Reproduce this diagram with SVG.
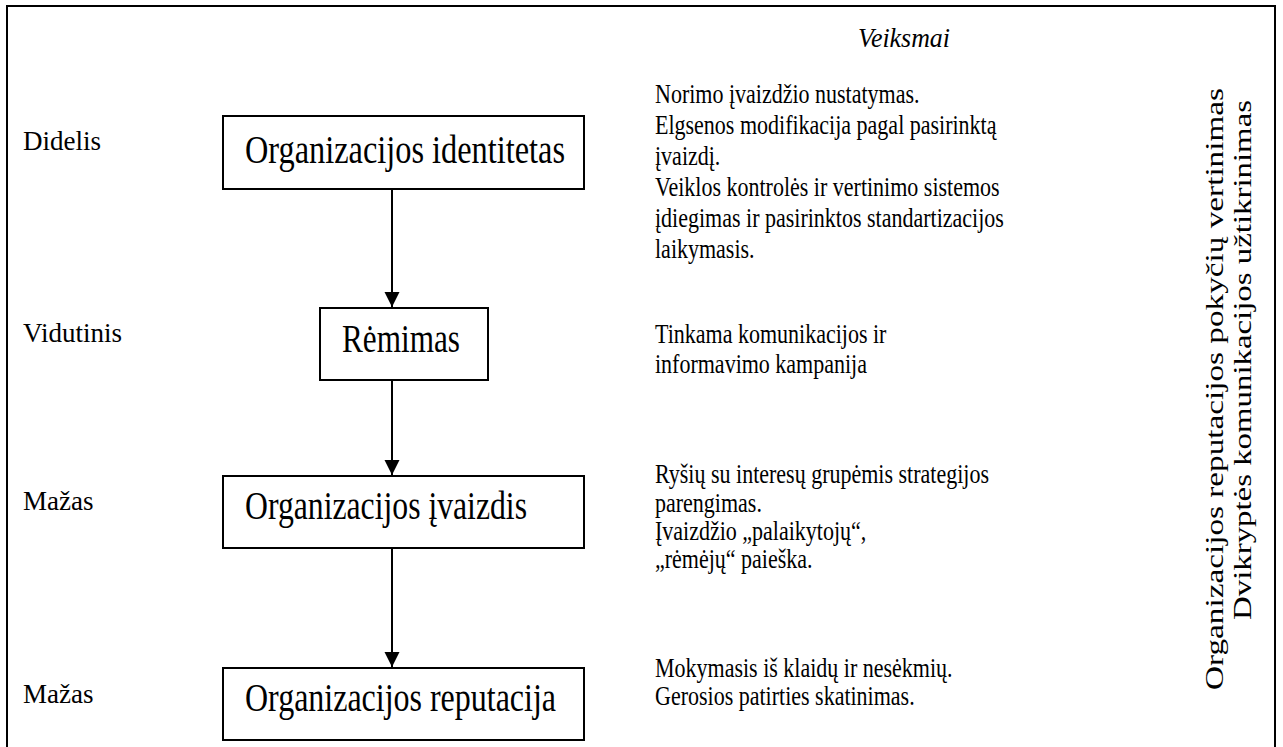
<svg xmlns="http://www.w3.org/2000/svg" width="1283" height="747" viewBox="0 0 1283 747">
<defs>
<marker id="arr" markerWidth="16" markerHeight="16" refX="15" refY="7.5" orient="auto" markerUnits="userSpaceOnUse">
<path d="M0,0 L15,7.5 L0,15 Z" fill="#000"/>
</marker>
<style>
.t{font-family:"Liberation Serif","Times New Roman","DejaVu Serif",serif;fill:#000}
.lbl{font-size:27px}
.box{fill:#fff;stroke:#000;stroke-width:2}
.nt{font-size:41px}
.rt{font-size:28px}
.vt{font-size:33px}
.c{fill:none;stroke:#000;stroke-width:2}
</style>
</defs>
<rect x="0" y="0" width="1283" height="747" fill="#fff"/>
<rect x="7" y="6" width="1268" height="760" fill="none" stroke="#000" stroke-width="2"/>

<text class="t rt" x="858" y="47" font-style="italic" textLength="92" lengthAdjust="spacingAndGlyphs">Veiksmai</text>

<g id="levels" class="t lbl">
<text x="23" y="150">Didelis</text>
<text x="23" y="342">Vidutinis</text>
<text x="23" y="510">Mažas</text>
<text x="23" y="703">Mažas</text>
</g>

<g id="connectors">
<line class="c" x1="392" y1="189" x2="392" y2="307" marker-end="url(#arr)"/>
<line class="c" x1="392" y1="380" x2="392" y2="475" marker-end="url(#arr)"/>
<line class="c" x1="392" y1="548" x2="392" y2="667" marker-end="url(#arr)"/>
</g>

<g id="n1"><rect class="box" x="223" y="116" width="361" height="73"/>
<text class="t nt" x="245" y="163" textLength="320" lengthAdjust="spacingAndGlyphs">Organizacijos identitetas</text></g>
<g id="n2"><rect class="box" x="320" y="308" width="168" height="72"/>
<text class="t nt" x="342" y="352" textLength="118" lengthAdjust="spacingAndGlyphs">Rėmimas</text></g>
<g id="n3"><rect class="box" x="223" y="476" width="361" height="72"/>
<text class="t nt" x="245" y="519" textLength="282" lengthAdjust="spacingAndGlyphs">Organizacijos įvaizdis</text></g>
<g id="n4"><rect class="box" x="223" y="668" width="361" height="72"/>
<text class="t nt" x="245" y="711" textLength="311" lengthAdjust="spacingAndGlyphs">Organizacijos reputacija</text></g>

<g id="actions" class="t rt" transform="translate(655,0) scale(0.786,1)">
<text x="0" y="103">Norimo įvaizdžio nustatymas.</text>
<text x="0" y="134">Elgsenos modifikacija pagal pasirinktą</text>
<text x="0" y="165">įvaizdį.</text>
<text x="0" y="196">Veiklos kontrolės ir vertinimo sistemos</text>
<text x="0" y="227">įdiegimas ir pasirinktos standartizacijos</text>
<text x="0" y="258">laikymasis.</text>
<text x="0" y="343">Tinkama komunikacijos ir</text>
<text x="0" y="373">informavimo kampanija</text>
<text x="0" y="483">Ryšių su interesų grupėmis strategijos</text>
<text x="0" y="512">parengimas.</text>
<text x="0" y="540">Įvaizdžio „palaikytojų“,</text>
<text x="0" y="568">„rėmėjų“ paieška.</text>
<text x="0" y="677">Mokymasis iš klaidų ir nesėkmių.</text>
<text x="0" y="705">Gerosios patirties skatinimas.</text>
</g>

<g id="vertical" class="t vt">
<text transform="translate(1223,690) scale(0.786,1) rotate(-90)" textLength="602" lengthAdjust="spacingAndGlyphs">Organizacijos reputacijos pokyčių vertinimas</text>
<text transform="translate(1251,620) scale(0.786,1) rotate(-90)" textLength="520" lengthAdjust="spacingAndGlyphs">Dvikryptės komunikacijos užtikrinimas</text>
</g>
</svg>
